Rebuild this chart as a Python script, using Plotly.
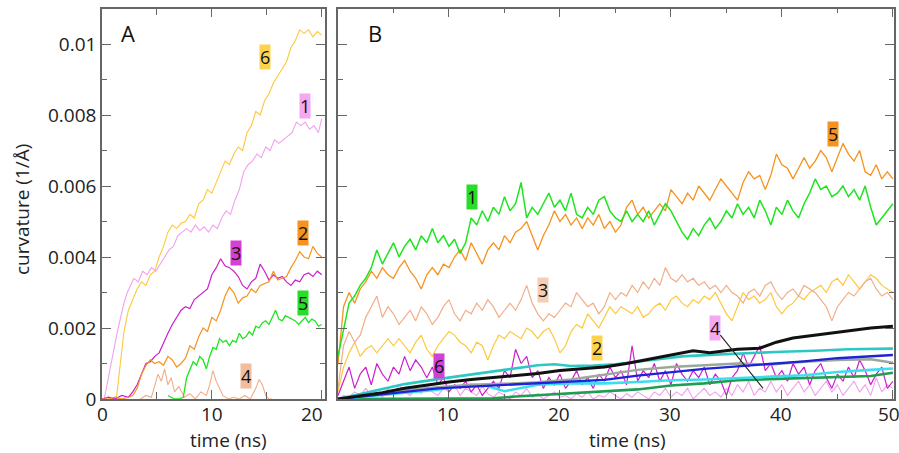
import plotly.graph_objects as go

# ---------------- Panel A data (curvature in units of 1e-3 1/Å) ----------------
a6_x = [1.3, 1.6, 2.0, 2.4, 2.8, 3.2, 3.6, 4.0, 4.4, 4.8, 5.2, 5.6, 6.0, 6.4, 6.8, 7.2, 7.6, 8.0, 8.4, 8.8,
        9.2, 9.6, 10.0, 10.4, 10.8, 11.2, 11.6, 12.0, 12.4, 12.8, 13.2, 13.6, 14.0, 14.4, 14.8, 15.2, 15.6,
        16.0, 16.4, 16.8, 17.2, 17.6, 18.0, 18.4, 18.8, 19.2, 19.6, 20.0]
a6_y = [0, 0.8, 1.9, 2.5, 2.8, 3.1, 3.3, 3.2, 3.5, 3.6, 4.0, 4.3, 4.7, 4.9, 4.8, 4.95, 5.0, 5.2, 5.1, 5.5,
        5.6, 5.9, 5.8, 6.1, 6.4, 6.7, 6.6, 6.9, 7.1, 7.0, 7.5, 7.7, 8.1, 8.0, 8.4, 8.6, 8.9,
        9.1, 9.3, 9.5, 9.9, 10.1, 10.4, 10.3, 10.4, 10.2, 10.35, 10.25]

a1_x = [0.2, 0.5, 0.8, 1.1, 1.4, 1.7, 2.0, 2.3, 2.6, 2.9, 3.3, 3.7, 4.1, 4.5, 4.9, 5.3, 5.7, 6.1, 6.5, 6.9,
        7.3, 7.7, 8.1, 8.5, 8.9, 9.3, 9.7, 10.1, 10.5, 10.9, 11.3, 11.7, 12.1, 12.5, 12.9, 13.3, 13.7, 14.1,
        14.5, 14.9, 15.3, 15.7, 16.1, 16.5, 16.9, 17.3, 17.7, 18.1, 18.5, 18.9, 19.3, 19.7, 20.0]
a1_y = [0, 0.5, 1.0, 1.5, 1.9, 2.3, 2.7, 3.0, 3.2, 3.4, 3.3, 3.6, 3.5, 3.7, 3.6, 3.8, 4.0, 4.2, 4.3, 4.6,
        4.7, 4.8, 4.7, 4.9, 4.75, 4.85, 4.7, 4.9, 4.8, 5.1, 5.3, 5.2, 5.6, 5.9, 6.4, 6.6, 6.7, 6.9,
        6.8, 7.1, 7.0, 7.3, 7.2, 7.3, 7.4, 7.5, 7.8, 7.7, 7.8, 7.6, 7.7, 7.5, 7.9]

a3_x = [0.0, 0.6, 1.2, 1.8, 2.4, 2.8, 3.2, 3.6, 4.0, 4.4, 4.8, 5.2, 5.6, 6.0, 6.4, 6.8, 7.2, 7.6, 8.0, 8.4,
        8.8, 9.2, 9.6, 10.0, 10.4, 10.8, 11.2, 11.6, 12.0, 12.4, 12.8, 13.2, 13.6, 14.0, 14.4, 14.8, 15.2,
        15.6, 16.0, 16.4, 16.8, 17.2, 17.6, 18.0, 18.4, 18.8, 19.2, 19.6, 20.0]
a3_y = [0, 0.05, 0, 0.1, 0.05, 0.2, 0.4, 0.7, 1.0, 1.05, 1.2, 1.3, 1.6, 1.85, 2.1, 2.3, 2.5, 2.6, 2.55, 2.8,
        2.9, 3.0, 3.1, 3.5, 3.7, 3.95, 3.75, 3.7, 3.6, 3.45, 3.2, 3.1, 3.3, 3.4, 3.8, 3.6, 3.35,
        3.5, 3.4, 3.45, 3.3, 3.2, 3.35, 3.3, 3.5, 3.55, 3.45, 3.6, 3.5]

a2_x = a3_x
a2_y = [0, 0, 0.05, 0, 0.05, 0.1, 0.3, 0.7, 0.95, 1.1, 1.0, 1.05, 0.95, 1.2, 1.1, 0.9, 1.0, 1.15, 1.5, 1.4,
        1.75, 2.0, 1.9, 2.3, 2.2, 2.5, 2.9, 3.15, 3.0, 2.7, 2.85, 2.9, 3.1, 3.0, 3.2, 3.25, 3.3,
        3.6, 3.35, 3.4, 3.45, 3.7, 3.9, 4.15, 4.0, 3.95, 4.3, 4.1, 4.0]

a5_x = [6.0, 6.3, 6.6, 7.0, 7.4, 7.7, 8.0, 8.3, 8.6, 8.9, 9.2, 9.5, 9.8, 10.1, 10.4, 10.7, 11.0, 11.3, 11.6,
        11.9, 12.2, 12.5, 12.8, 13.1, 13.4, 13.7, 14.0, 14.3, 14.6, 14.9, 15.2, 15.5, 15.8, 16.1, 16.4,
        16.7, 17.0, 17.3, 17.6, 17.9, 18.2, 18.5, 18.8, 19.1, 19.4, 19.7, 20.0]
a5_y = [0.1, 0.05, 0, 0, 0.05, 0.6, 0.8, 1.05, 0.95, 1.2, 1.1, 0.85, 1.2, 1.45, 1.4, 1.7, 1.6, 1.65, 1.5,
        1.65, 1.6, 1.85, 1.7, 1.75, 1.9, 1.8, 2.05, 2.0, 2.15, 2.2, 2.1, 2.3, 2.5, 2.25, 2.2,
        2.35, 2.3, 2.25, 2.2, 2.1, 2.2, 2.3, 2.15, 2.25, 2.2, 2.05, 2.1]

a4_x = [3.5, 4.0, 4.5, 4.8, 5.1, 5.4, 5.7, 6.0, 6.3, 6.6, 7.0, 7.5, 8.0, 8.5, 9.0, 9.5, 9.8, 10.1, 10.4,
        10.7, 11.0, 11.5, 12.0, 12.5, 13.0, 13.5, 14.0, 14.3, 14.6, 14.9, 15.2, 15.5]
a4_y = [0, 0.1, 0.05, 0.4, 0.7, 0.5, 0.85, 0.4, 0.6, 0.2, 0.35, 0.05, 0.15, 0.0, 0.2, 0.1, 0.4, 0.8, 0.5,
        0.3, 0.1, 0.0, 0.05, 0.0, 0.1, 0.0, 0.3, 0.55, 0.4, 0.1, 0.0, 0.0]

# ---------------- Panel B data ----------------
b_time = [0.0, 0.5, 1.0, 1.5, 2.0, 2.5, 3.0, 3.5, 4.0, 4.5, 5.0, 5.5, 6.0, 6.5, 7.0, 7.5, 8.0, 8.5, 9.0, 9.5,
          10.0, 10.5, 11.0, 11.5, 12.0, 12.5, 13.0, 13.5, 14.0, 14.5, 15.0, 15.5, 16.0, 16.5, 17.0, 17.5,
          18.0, 18.5, 19.0, 19.5, 20.0, 20.5, 21.0, 21.5, 22.0, 22.5, 23.0, 23.5, 24.0, 24.5, 25.0, 25.5,
          26.0, 26.5, 27.0, 27.5, 28.0, 28.5, 29.0, 29.5, 30.0, 30.5, 31.0, 31.5, 32.0, 32.5, 33.0, 33.5,
          34.0, 34.5, 35.0, 35.5, 36.0, 36.5, 37.0, 37.5, 38.0, 38.5, 39.0, 39.5, 40.0, 40.5, 41.0, 41.5,
          42.0, 42.5, 43.0, 43.5, 44.0, 44.5, 45.0, 45.5, 46.0, 46.5, 47.0, 47.5, 48.0, 48.5, 49.0, 49.5, 50.0]

b1_y = [1.2, 2.0, 2.7, 2.9, 3.2, 3.4, 3.7, 4.2, 3.8, 4.1,
        4.4, 4.0, 4.3, 4.5, 4.2, 4.6, 4.4, 4.8, 4.4, 4.6,
        4.3, 4.5, 4.1, 4.4, 5.1, 4.9, 5.3, 5.0, 5.4, 5.2,
        5.7, 5.3, 5.5, 6.1, 5.1, 5.4, 5.2, 5.5, 5.8, 5.4,
        5.6, 5.3, 5.8, 5.2, 5.1, 5.4, 5.2, 5.6, 5.7, 5.3,
        5.1, 5.0, 5.3, 5.0, 5.2, 5.0, 5.3, 4.9, 5.2, 5.5,
        5.3, 5.0, 4.7, 4.5, 4.8, 4.6, 4.9, 5.1, 4.8, 5.0,
        5.3, 5.1, 5.5, 5.2, 5.4, 5.1, 5.6, 5.3, 4.9, 5.4,
        5.2, 5.6, 5.3, 5.1, 5.5, 5.8, 6.2, 5.9, 6.0, 5.7,
        5.8, 6.0, 5.7, 5.9, 5.6, 6.0, 5.4, 4.9, 5.1, 5.3,
        5.5]

b5_y = [1.0, 2.6, 3.0, 2.7, 3.1, 3.3, 3.6, 3.4, 3.7, 3.5,
        3.4, 3.7, 3.9, 3.6, 3.4, 3.1, 3.5, 3.7, 3.5, 3.8,
        3.7, 4.0, 4.2, 3.9, 4.4, 4.1, 3.8, 4.2, 4.4, 4.2,
        4.6, 4.4, 4.7, 4.8, 5.0, 4.6, 4.2, 4.6, 4.9, 5.3,
        5.0, 5.2, 4.9, 5.1, 4.8, 5.1, 4.9, 5.2, 4.8, 5.0,
        4.7, 4.9, 5.4, 5.6, 5.2, 5.4, 5.1, 5.3, 5.5, 5.3,
        5.9, 5.7, 5.5, 5.8, 5.6, 6.0, 5.8, 5.6, 5.9, 6.2,
        6.0, 5.8, 5.6, 6.1, 6.4, 6.2, 6.3, 5.9, 6.3, 6.9,
        6.6, 6.5, 6.2, 6.5, 6.8, 6.5, 6.7, 7.0, 6.8, 6.4,
        6.8, 7.2, 6.9, 6.7, 7.0, 6.4, 6.3, 6.6, 6.2, 6.4,
        6.2]

b3_y = [0.3, 1.5, 1.9, 1.6, 1.8, 2.3, 2.6, 2.9, 2.3, 2.6,
        2.4, 2.1, 2.3, 2.5, 2.2, 2.6, 2.4, 2.1, 2.3, 2.6,
        2.8, 2.4, 2.2, 2.5, 2.4, 2.7, 2.5, 2.8, 2.6, 2.3,
        2.5, 2.7, 2.5, 2.8, 3.2, 2.7, 2.4, 2.2, 2.4, 2.3,
        2.5, 2.7, 2.6, 3.0, 2.8, 2.6, 2.7, 2.4, 2.6, 3.0,
        2.8, 3.0, 2.9, 3.2, 3.0, 3.3, 3.1, 3.4, 3.2, 3.7,
        3.4, 3.3, 3.5, 3.3, 3.4, 3.2, 3.3, 3.1, 3.2, 3.0,
        3.2, 3.0, 2.9, 2.7, 3.0, 3.1, 2.9, 3.2, 3.3, 3.0,
        2.8, 3.0, 3.1, 2.9, 3.2, 3.1, 3.0, 2.8, 2.6, 2.2,
        2.6, 2.8, 3.0, 2.9, 3.1, 3.3, 3.4, 3.1, 2.9, 3.0,
        2.8]

b2_y = [0.2, 0.9, 1.3, 1.6, 1.2, 1.4, 1.5, 1.3, 1.5, 1.7,
        1.5, 1.7, 1.5, 1.3, 1.6, 1.8, 1.4, 1.2, 1.5, 1.7,
        1.9, 1.8, 1.6, 1.5, 1.3, 1.6, 1.5, 1.1, 1.5, 1.8,
        1.7, 1.9, 1.8, 1.7, 2.0, 1.9, 1.7, 1.9, 2.0, 1.7,
        1.3, 1.5, 1.9, 2.1, 2.0, 2.4, 2.2, 2.0, 2.3, 2.6,
        2.4, 2.6, 2.5, 2.4, 2.6, 2.3, 2.4, 2.6, 2.7, 2.5,
        2.8, 2.9, 2.7, 2.6, 2.8, 2.7, 2.9, 2.8, 3.0, 2.7,
        2.4, 2.2, 2.6, 3.0, 2.8, 2.9, 2.7, 2.8, 3.0, 2.6,
        2.4, 2.6, 2.7, 2.9, 2.8, 3.0, 3.1, 3.2, 3.0, 3.3,
        3.4, 3.2, 3.5, 3.3, 3.1, 3.3, 3.5, 3.4, 3.2, 3.1,
        3.0]

b6_y = [0.1, 0.5, 0.9, 0.3, 0.7, 0.9, 0.4, 1.0, 0.7, 0.5,
        0.9, 0.7, 1.2, 0.8, 1.1, 0.9, 0.6, 0.9, 0.4, 0.6,
        0.2, 0.4, 0.3, 0.5, 0.2, 0.4, 0.1, 0.3, 0.5, 0.3,
        0.8, 0.6, 1.4, 1.0, 1.2, 0.6, 0.8, 0.3, 0.6, 0.4,
        0.7, 0.3, 0.5, 0.8, 0.4, 0.6, 0.3, 0.7, 0.5, 0.9,
        0.6, 0.8, 0.4, 1.5, 0.5, 0.8, 0.6, 1.0, 0.5, 0.8,
        0.4, 1.0, 0.7, 0.5, 0.8, 0.6, 0.9, 0.4, 0.7, 0.5,
        0.1, 0.6, 0.8, 1.3, 0.9, 1.2, 1.5, 0.8, 1.0, 0.6,
        0.8, 0.5, 1.0, 0.7, 0.9, 0.4, 0.8, 1.0, 0.6, 0.3,
        0.7, 0.5, 0.9, 0.6, 1.1, 0.8, 0.4, 0.7, 0.9, 0.3,
        0.5]

b4_y = [0, 0.1, 0.05, 0.2, 0.1, 0.3, 0.1, 0.2, 0.05, 0.3,
        0.1, 0.4, 0.2, 0.1, 0.3, 0.15, 0.4, 0.2, 0.1, 0.3,
        0.2, 0.4, 0.1, 0.3, 0.2, 0.1, 0.35, 0.15, 0.05, 0.2,
        0.1, 0.0, 0.2, 0.1, 0.3, 0.05, 0.15, 0.0, 0.1, 0.2,
        0.05, 0.1, 0.0, 0.15, 0.05, 0.2, 0.0, 0.1, 0.05, 0.2,
        0.1, 0.0, 0.15, 0.05, 0.2, 0.1, 0.0, 0.2, 0.1, 0.3,
        0.05, 0.2, 0.1, 0.3, 0.0, 0.15, 0.3, 0.1, 0.2, 0.05,
        0.3, 0.1, 0.4, 0.2, 0.5, 0.1, 0.3, 0.2, 0.5, 0.2,
        0.4, 0.1, 0.3, 0.5, 0.2, 0.4, 0.1, 0.3, 0.5, 0.2,
        0.4, 0.1, 0.3, 0.5, 0.2, 0.4, 0.1, 0.6, 0.2, 0.4,
        0.3]

black_x = [0, 2, 4, 6, 8, 10, 12, 14, 16, 18, 20, 22, 24, 26, 28, 30, 32, 33.5, 35, 36, 38, 39.5, 41, 42, 44, 46, 48, 50]
black_y = [0, 0.08, 0.18, 0.3, 0.4, 0.48, 0.55, 0.6, 0.65, 0.72, 0.8, 0.85, 0.9, 1.0, 1.12, 1.24, 1.36, 1.3,
           1.36, 1.4, 1.43, 1.6, 1.72, 1.76, 1.85, 1.94, 2.0, 2.05]

teal_x = [0, 3, 6, 9, 12, 15, 18, 19.5, 21, 23, 25, 28, 31, 34, 37, 40, 43, 46, 50]
teal_y = [0, 0.2, 0.42, 0.56, 0.7, 0.82, 0.95, 0.98, 0.93, 0.94, 0.98, 1.1, 1.2, 1.25, 1.3, 1.33, 1.36, 1.4, 1.42]

blue_x = [0, 3, 6, 9, 12, 15, 18, 21, 24, 27, 30, 33, 36, 39, 42, 45, 48, 50]
blue_y = [0, 0.1, 0.2, 0.3, 0.35, 0.4, 0.44, 0.49, 0.54, 0.66, 0.76, 0.85, 0.92, 0.98, 1.06, 1.15, 1.2, 1.24]

gray_x = [0, 3, 6, 9, 12, 15, 18, 21, 24, 27, 30, 33, 36, 39, 42, 45, 48, 50]
gray_y = [0, 0.12, 0.25, 0.33, 0.4, 0.43, 0.47, 0.55, 0.68, 0.82, 0.9, 0.95, 1.0, 0.97, 1.05, 1.1, 1.12, 1.02]

cyan_x = [0, 3, 6, 9, 12, 13.5, 15, 16.5, 18, 21, 24, 27, 30, 33, 36, 39, 42, 45, 48, 50]
cyan_y = [0, 0.08, 0.17, 0.26, 0.4, 0.36, 0.22, 0.3, 0.4, 0.44, 0.44, 0.48, 0.53, 0.55, 0.6, 0.63, 0.67, 0.76,
          0.82, 0.86]

dgreen_x = [0, 5, 10, 14, 16, 18, 21, 24, 27, 30, 33, 36, 39, 42, 45, 48, 50]
dgreen_y = [0, 0, 0, 0.02, 0.07, 0.11, 0.17, 0.23, 0.27, 0.38, 0.44, 0.53, 0.56, 0.6, 0.61, 0.65, 0.74]

y_tick_vals = [0, 2, 4, 6, 8, 10]
y_tick_text = ["0", "0.002", "0.004", "0.006", "0.008", "0.01"]
xa_tick_vals = [0, 10, 20]
xa_tick_text = ["0", "10", "20"]
xb_tick_vals = [0, 10, 20, 30, 40, 50]
xb_tick_text = ["0", "10", "20", "30", "40", "50"]

XA_RANGE = [0, 20.3]
XB_RANGE = [0, 50.1]
XA_DOMAIN = [102 / 899, 325 / 899]
XB_DOMAIN = [338 / 899, 894 / 899]

# ---------------- colours ----------------
YELLOW = "#FDC83C"
PINK = "#F3A0EE"
MAGENTA = "#CC1FCC"
ORANGE = "#F7921E"
GREEN = "#1FE41F"
PEACH = "#F1AE88"

FONT = "Open Sans"
AX = "#666666"
TXT = "#222222"

fig = go.Figure()


def line(x, y, color, width, xa="x", ya="y"):
    fig.add_trace(go.Scatter(x=x, y=y, mode="lines", xaxis=xa, yaxis=ya,
                             line=dict(color=color, width=width), hoverinfo="skip",
                             showlegend=False))


# Panel A
line(a4_x, a4_y, PEACH, 1.1)
line(a1_x, a1_y, PINK, 1.1)
line(a6_x, a6_y, YELLOW, 1.1)
line(a3_x, a3_y, MAGENTA, 1.2)
line(a2_x, a2_y, ORANGE, 1.2)
line(a5_x, a5_y, GREEN, 1.3)

# Panel B
line(b_time, b4_y, PINK, 1.1, "x2", "y2")
line(b_time, b6_y, MAGENTA, 1.2, "x2", "y2")
line(dgreen_x, dgreen_y, "#1F9E50", 2.6, "x2", "y2")
line(cyan_x, cyan_y, "#3DDDF0", 2.6, "x2", "y2")
line(gray_x, gray_y, "#9BA89A", 2.4, "x2", "y2")
line(blue_x, blue_y, "#1E22D8", 2.4, "x2", "y2")
line(teal_x, teal_y, "#2EC8C4", 2.6, "x2", "y2")
line(black_x, black_y, "#111111", 3.0, "x2", "y2")
line(b_time, b2_y, YELLOW, 1.2, "x2", "y2")
line(b_time, b3_y, PEACH, 1.2, "x2", "y2")
line(b_time, b5_y, ORANGE, 1.3, "x2", "y2")
line(b_time, b1_y, GREEN, 1.5, "x2", "y2")

# first tick label of panel B drawn as a text mark just below its axis origin
fig.add_trace(go.Scatter(x=[xb_tick_vals[0]], y=[-0.42], xaxis="x2", yaxis="y2", mode="text",
                         text=[xb_tick_text[0]], textposition="middle center", cliponaxis=False,
                         textfont=dict(family=FONT, size=19, color=TXT), hoverinfo="skip",
                         showlegend=False))

common = dict(showline=True, linecolor=AX, linewidth=1.5, mirror="allticks", ticks="inside",
              tickcolor=AX, tickwidth=1.3, ticklen=9, showgrid=False, zeroline=False,
              automargin=False, tickfont=dict(family=FONT, size=19, color=TXT))
ydom = [(453 - 399) / 453, (453 - 8.5) / 453]

fig.update_layout(
    width=899, height=453,
    margin=dict(l=0, r=0, t=0, b=0),
    paper_bgcolor="white", plot_bgcolor="rgba(0,0,0,0)",
    template="none",
    xaxis=dict(domain=XA_DOMAIN, range=XA_RANGE, anchor="y",
               tickmode="array", tickvals=xa_tick_vals, showticklabels=False,
               minor=dict(dtick=5, tick0=0, ticklen=7, ticks="inside", tickcolor=AX), **common),
    yaxis=dict(domain=ydom, range=[0, 11], anchor="x",
               tickmode="array", tickvals=y_tick_vals, ticktext=y_tick_text,
               minor=dict(dtick=1, tick0=0, ticklen=5, ticks="inside", tickcolor=AX), **common),
    xaxis2=dict(domain=XB_DOMAIN, range=XB_RANGE, anchor="y2",
                tickmode="array", tickvals=xb_tick_vals, showticklabels=False,
                minor=dict(dtick=5, tick0=0, ticklen=5, ticks="inside", tickcolor=AX), **common),
    yaxis2=dict(domain=ydom, range=[0, 11], anchor="x2", showticklabels=False,
                tickmode="array", tickvals=y_tick_vals,
                minor=dict(dtick=1, tick0=0, ticklen=5, ticks="inside", tickcolor=AX), **common),
)

ann = []


def ptext(text, px, py, size, angle=0, color=TXT):
    ann.append(dict(text=text, x=px / 899, y=(453 - py) / 453, xref="paper", yref="paper",
                    xanchor="center", yanchor="middle", textangle=angle, showarrow=False,
                    font=dict(family=FONT, size=size, color=color)))


# x tick labels, positioned along each axis (paper coordinates from domain and range)
LABEL_Y = (453 - 414) / 453


def xlabels(vals, texts, rng, dom, last_shift, other_shift, start=0):
    for i, (v, t) in enumerate(zip(vals, texts)):
        if i < start:
            continue
        frac = (v - rng[0]) / (rng[1] - rng[0])
        ann.append(dict(text=t, x=dom[0] + frac * (dom[1] - dom[0]), xref="paper",
                        y=LABEL_Y, yref="paper", xanchor="center", yanchor="middle",
                        xshift=last_shift if i == len(vals) - 1 else other_shift, showarrow=False,
                        font=dict(family=FONT, size=19, color=TXT)))


xlabels(xa_tick_vals, xa_tick_text, XA_RANGE, XA_DOMAIN, -10, 0)
xlabels(xb_tick_vals, xb_tick_text, XB_RANGE, XB_DOMAIN, -4, -1, start=1)

# axis titles and panel letters
ptext("curvature (1/Å)", 22, 210, 19, angle=-90)
ptext("time (ns)", 228, 440, 19)
ptext("time (ns)", 627, 440, 19)
ptext("A", 128, 33, 22, color="#111111")
ptext("B", 375, 33, 22, color="#111111")


def tag(text, x, y, bg, xr="x", yr="y"):
    ann.append(dict(text=text, x=x, y=y, xref=xr, yref=yr, showarrow=False, bgcolor=bg,
                    xanchor="center", yanchor="middle",
                    borderpad=0, font=dict(family=FONT, size=18, color="#111111")))


tag("6", 14.8, 9.63, "#FDD34E")
tag("1", 18.45, 8.25, "#F5A8F1")
tag("3", 12.2, 4.11, "#D43FD4")
tag("2", 18.3, 4.68, ORANGE)
tag("5", 18.3, 2.70, "#27DD27")
tag("4", 13.1, 0.65, "#F3BC9A")

tag("1", 12.05, 5.68, "#27DD27", "x2", "y2")
tag("3", 18.5, 3.07, "#F6CDB4", "x2", "y2")
tag("2", 23.3, 1.43, "#FDD34E", "x2", "y2")
tag("6", 9.13, 0.93, "#D43FD4", "x2", "y2")
tag("5", 44.6, 7.46, ORANGE, "x2", "y2")
ann.append(dict(text="4", x=38.3, y=0.3, xref="x2", yref="y2", ax=33.96, ay=1.99, axref="x2", ayref="y2",
                showarrow=True, arrowhead=0, arrowwidth=1.1, arrowcolor="#222222", bgcolor="#F5A8F1",
                borderpad=0, font=dict(family=FONT, size=18, color="#111111")))

fig.update_layout(annotations=ann)
fig.write_html("out.html", config={"displayModeBar": False},
               post_script="document.body.style.margin='0';document.body.style.overflow='hidden';")
